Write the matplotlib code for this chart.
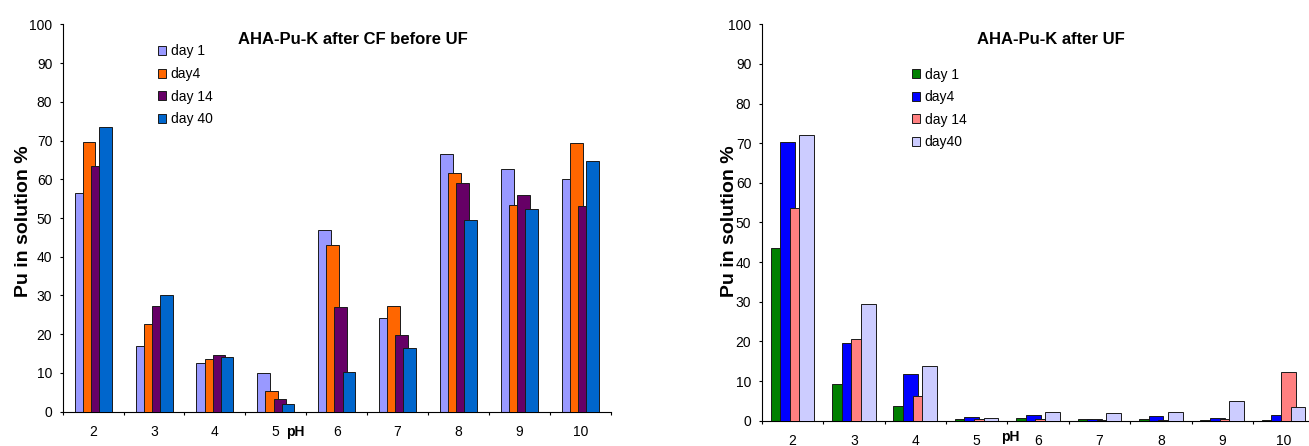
import matplotlib
matplotlib.use("Agg")
import matplotlib.pyplot as plt
import numpy as np
from matplotlib.ticker import FixedLocator, NullFormatter

plt.rcParams['font.family'] = ['Liberation Sans', 'DejaVu Sans']

ph_labels = ["2", "3", "4", "5", "6", "7", "8", "9", "10"]

# Pu in solution (%) after CF, before UF
cf_names = ["day 1", "day4", "day 14", "day 40"]
cf_day1 = [56.5, 17.0, 12.5, 10.0, 46.8, 24.3, 66.6, 62.6, 60.1]
cf_day4 = [69.5, 22.6, 13.6, 5.3, 43.1, 27.4, 61.7, 53.3, 69.4]
cf_day14 = [63.5, 27.4, 14.7, 3.4, 27.1, 19.8, 59.0, 55.9, 53.1]
cf_day40 = [73.5, 30.2, 14.2, 1.9, 10.2, 16.4, 49.6, 52.2, 64.6]

# Pu in solution (%) after UF
uf_names = ["day 1", "day4", "day 14", "day40"]
uf_day1 = [43.5, 9.2, 3.6, 0.5, 0.8, 0.5, 0.5, 0.2, 0.2]
uf_day4 = [70.3, 19.5, 11.7, 1.0, 1.4, 0.5, 1.1, 0.8, 1.4]
uf_day14 = [53.6, 20.6, 6.3, 0.5, 0.5, 0.3, 0.3, 0.5, 12.3]
uf_day40 = [72.0, 29.5, 13.7, 0.8, 2.3, 2.0, 2.3, 5.0, 3.4]

cf_colors = ["#9999FF", "#FF6600", "#660066", "#0066CC"]
uf_colors = ["#008000", "#0000FF", "#FF8080", "#CCCCFF"]

W, H = 1309, 446
fig = plt.figure(figsize=(W / 100, H / 100), dpi=100)


def px_axes(x0, y_top, x1, y_bot):
    return fig.add_axes([x0 / W, 1 - y_bot / H, (x1 - x0) / W, (y_bot - y_top) / H])


def draw_panel(ax, series, names, colors, step, width, title, title_xy,
               leg_xy, ph_xy, ylabel_xy):
    x = np.arange(len(ph_labels))
    n = len(series)
    handles = []
    for i, (vals, c) in enumerate(zip(series, colors)):
        off = (i - (n - 1) / 2) * step
        b = ax.bar(x + off, vals, width=width, color=c, edgecolor="#1a1a1a",
                   linewidth=0.7, zorder=2 + i, label=names[i])
        handles.append(b)
    ax.set_xlim(-0.5, len(ph_labels) - 0.5)
    ax.set_ylim(0, 100)
    ax.set_yticks(np.arange(0, 101, 10))
    ax.set_xticks(x)
    ax.set_xticklabels(ph_labels)
    ax.xaxis.set_minor_locator(FixedLocator(np.arange(-0.5, len(ph_labels), 1.0)))
    ax.xaxis.set_minor_formatter(NullFormatter())
    ax.tick_params(axis="x", which="major", length=0, pad=9.5, labelsize=10)
    ax.tick_params(axis="x", which="minor", length=2.5, width=0.8, direction="out")
    ax.tick_params(axis="y", length=2.5, width=0.8, direction="out", pad=5,
                   labelsize=10)
    for s in ("top", "right"):
        ax.spines[s].set_visible(False)
    for s in ("left", "bottom"):
        ax.spines[s].set_linewidth(0.8)
    fig.text(ylabel_xy[0] / W, 1 - ylabel_xy[1] / H, "Pu in solution %",
             fontsize=14, fontweight="bold", rotation=90,
             ha="center", va="center")
    fig.text(title_xy[0] / W, 1 - title_xy[1] / H, title, fontsize=12,
             fontweight="bold", ha="center", va="center")
    fig.text(ph_xy[0] / W, 1 - ph_xy[1] / H, "pH",
             fontsize=10, fontweight="bold", ha="center", va="center")
    ax.legend(handles=handles, loc="upper left",
              bbox_to_anchor=(leg_xy[0] / W, 1 - leg_xy[1] / H),
              bbox_transform=fig.transFigure, frameon=False, fontsize=10,
              handlelength=0.6, handleheight=0.6, handletextpad=0.35,
              labelspacing=0.62, borderpad=0, borderaxespad=0)


ax1 = px_axes(62.7, 24.3, 610.7, 411.7)
draw_panel(ax1, [cf_day1, cf_day4, cf_day14, cf_day40], cf_names, cf_colors,
           step=0.133, width=0.208, title="AHA-Pu-K after CF before UF",
           title_xy=(353, 40), leg_xy=(157.5, 44.5), ph_xy=(295.5, 432),
           ylabel_xy=(24, 221))

ax2 = px_axes(761.7, 24.3, 1314.3, 420.7)
draw_panel(ax2, [uf_day1, uf_day4, uf_day14, uf_day40], uf_names, uf_colors,
           step=0.157, width=0.24, title="AHA-Pu-K after UF",
           title_xy=(1051, 40), leg_xy=(911.5, 67.5), ph_xy=(1010.5, 437),
           ylabel_xy=(729, 221))

fig.savefig("out.png", dpi=100)
